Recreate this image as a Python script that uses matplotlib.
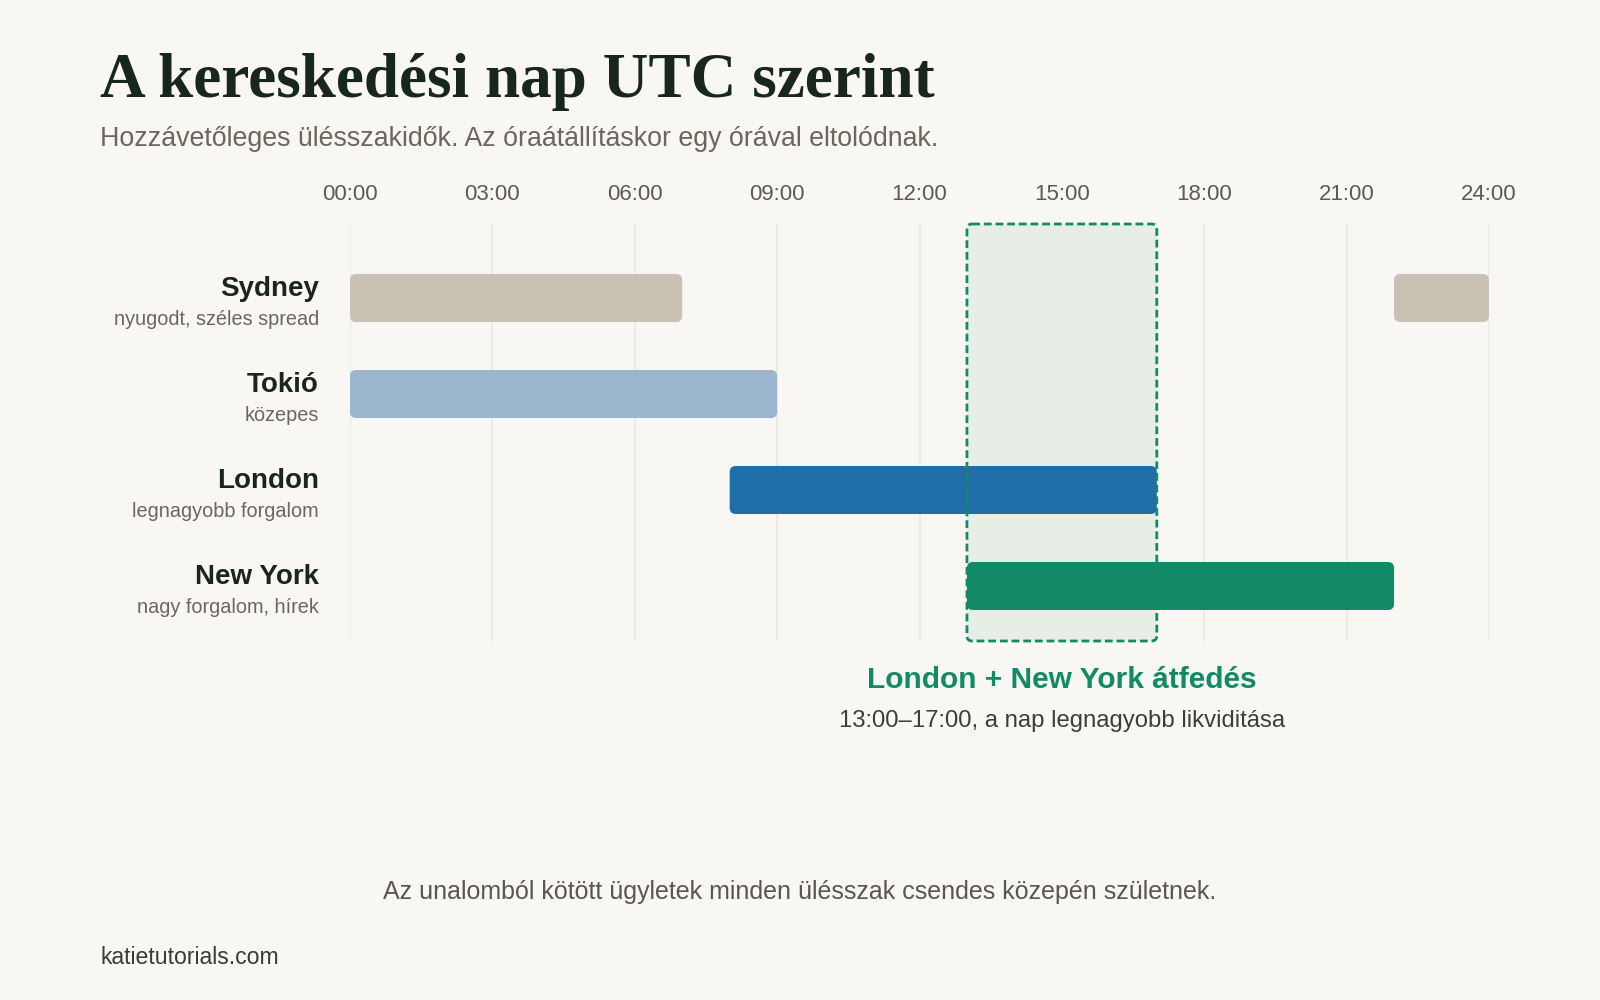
import matplotlib as mpl
mpl.use('Agg')
import matplotlib.pyplot as plt
from matplotlib.patches import FancyBboxPatch
from matplotlib.transforms import blended_transform_factory

# sessions (UTC hours)
cities = ["Sydney", "Tokió", "London", "New York"]
notes = ["nyugodt, széles spread", "közepes", "legnagyobb forgalom", "nagy forgalom, hírek"]
sessions = [[(0, 7), (22, 24)], [(0, 9)], [(8, 17)], [(13, 22)]]
colors = ["#c9c1b4", "#9bb5cd", "#1f6ea7", "#128a68"]
hours = [0, 3, 6, 9, 12, 15, 18, 21, 24]
hour_labels = ["%02d:00" % h for h in hours]
overlap = (13, 17)

bg = "#f8f7f3"
plt.rcParams['font.family'] = ['Liberation Sans', 'DejaVu Sans']

fig = plt.figure(figsize=(16, 10), dpi=100, facecolor=bg)
ax = fig.add_axes([350/1600, 1-641/1000, 1139/1600, 417/1000])
ax.set_facecolor(bg)
ax.set_xlim(0, 24)
ax.set_ylim(3.573, -0.771)
for s in ax.spines.values():
    s.set_visible(False)
ax.xaxis.tick_top()
ax.set_xticks(hours)
ax.set_xticklabels(hour_labels)
ax.tick_params(axis='x', length=0, pad=14, labelsize=16, labelcolor="#5c5a52")
ax.set_yticks([])
for h in hours:
    ax.axvline(h, color="#e9e7e0", lw=1.1, zorder=0)

# px per unit -> keep corners round
asp = (1139/24) / 96.0
bh = 0.5
for i, (segs, c) in enumerate(zip(sessions, colors)):
    for a, b in segs:
        p = FancyBboxPatch((a, i - bh/2), b - a, bh,
                           boxstyle="round,pad=0,rounding_size=0.13",
                           mutation_aspect=asp, fc=c, ec="none", zorder=2)
        ax.add_patch(p)

y0, y1 = ax.get_ylim()
box_fill = FancyBboxPatch((overlap[0], y1), overlap[1]-overlap[0], y0-y1,
                          boxstyle="round,pad=0,rounding_size=0.11",
                          mutation_aspect=asp, fc="#e6eee6", ec="none", zorder=0.5, clip_on=False)
ax.add_patch(box_fill)
box_edge = FancyBboxPatch((overlap[0], y1), overlap[1]-overlap[0], y0-y1,
                          boxstyle="round,pad=0,rounding_size=0.11",
                          mutation_aspect=asp, fc="none", ec="#138a66", lw=2.0,
                          linestyle=(0, (2.8, 1.4)), zorder=3, clip_on=False)
ax.add_patch(box_edge)

tr = blended_transform_factory(fig.transFigure, ax.transData)
for i, (c, n) in enumerate(zip(cities, notes)):
    ax.text(319/1600, i - 0.09, c, transform=tr, ha='right', va='center',
            fontsize=20, fontweight='bold', color="#1c2420")
    ax.text(319/1600, i + 0.22, n, transform=tr, ha='right', va='center',
            fontsize=14.3, color="#6b675e")

fig.text(100/1600, 1-97/1000, "A kereskedési nap UTC szerint", fontfamily='Liberation Serif',
         fontweight='bold', fontsize=45.5, color="#17261f", va='baseline', ha='left')
fig.text(100/1600, 1-146/1000, "Hozzávetőleges ülésszakidők. Az óraátállításkor egy órával eltolódnak.",
         fontsize=19.3, color="#6b675c", va='baseline', ha='left')

xc = (350 + 1139*15/24) / 1600
fig.text(xc, 1-680/1000, "London + New York átfedés", fontsize=21.5, fontweight='bold',
         color="#138a66", ha='center', va='center')
fig.text(xc, 1-721/1000, "13:00–17:00, a nap legnagyobb likviditása", fontsize=17.2,
         color="#3d3d3d", ha='center', va='center')

fig.text(0.5, 1-892/1000, "Az unalomból kötött ügyletek minden ülésszak csendes közepén születnek.",
         fontsize=18, color="#5a574e", ha='center', va='center')
fig.text(100/1600, 1-958/1000, "katietutorials.com", fontsize=16.6, color="#3a3a3a",
         ha='left', va='center')

fig.savefig("out.png", dpi=100, facecolor=bg)
